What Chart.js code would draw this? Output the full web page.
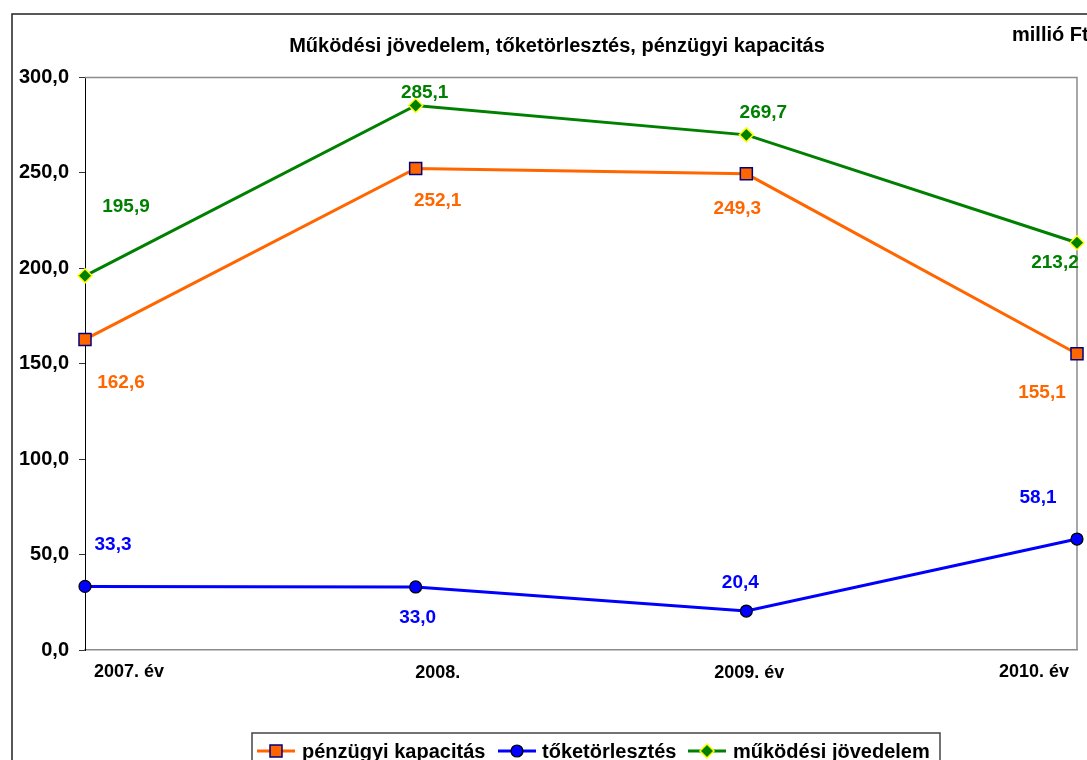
<!DOCTYPE html>
<html>
<head>
<meta charset="utf-8">
<script src="https://cdn.jsdelivr.net/npm/chart.js@4/dist/chart.umd.min.js"></script>
<style>
html,body{margin:0;padding:0;background:#fff;}
#wrap{width:1087px;height:760px;position:relative;}
</style>
</head>
<body>
<div id="wrap"><canvas id="c" width="1087" height="760"></canvas></div>
<script>
// ---- data ----
const categories = ["2007. év", "2008.", "2009. év", "2010. év"];
const penzugyiKapacitas = [162.6, 252.1, 249.3, 155.1];
const toketorlesztes = [33.3, 33.0, 20.4, 58.1];
const mukodesiJovedelem = [195.9, 285.1, 269.7, 213.2];
const seriesNames = ["pénzügyi kapacitás", "tőketörlesztés", "működési jövedelem"];
const chartTitle = "Működési jövedelem, tőketörlesztés, pénzügyi kapacitás";
const unitLabel = "millió Ft";
const yMin = 0, yMax = 300, yStep = 50;

// ---- styles ----
const FONT = '"Liberation Sans", Arial, sans-serif';
const labelOffsets = [
  [[36, 43], [22, 32], [-9, 35], [-35, 39]],
  [[28, -42], [2, 31], [-6, -28], [-39, -41]],
  [[41, -69], [9, -13], [17, -22], [-22, 20]]
];
const xLabelOffsets = [[44, 22], [22, 23], [3, 23], [-43, 22]];

function fmt(v) { return v.toFixed(1).replace('.', ','); }

const decor = {
  id: 'decor',
  beforeDatasetsDraw(chart) {
    const ctx = chart.ctx, a = chart.chartArea;
    ctx.save();
    ctx.strokeStyle = '#8c8c8c';
    ctx.lineWidth = 1.5;
    ctx.beginPath();
    ctx.moveTo(a.left, a.top + 0.5);
    ctx.lineTo(a.right, a.top + 0.5);
    ctx.lineTo(a.right, a.bottom);
    ctx.stroke();
    ctx.restore();
  },
  afterDatasetsDraw(chart) {
    const ctx = chart.ctx;
    ctx.save();
    ctx.font = 'bold 19px ' + FONT;
    ctx.textAlign = 'center';
    ctx.textBaseline = 'middle';
    chart.data.datasets.forEach((ds, di) => {
      const meta = chart.getDatasetMeta(di);
      meta.data.forEach((pt, i) => {
        const off = labelOffsets[di][i];
        ctx.fillStyle = ds.labelColor;
        ctx.fillText(fmt(ds.data[i]), pt.x + off[0], pt.y + off[1]);
      });
    });
    ctx.restore();
  },
  afterDraw(chart) {
    const ctx = chart.ctx, a = chart.chartArea;
    const xs = chart.scales.x;
    ctx.save();
    // outer frame
    ctx.strokeStyle = '#222';
    ctx.lineWidth = 1.5;
    ctx.beginPath();
    ctx.moveTo(12, 770);
    ctx.lineTo(12, 14);
    ctx.lineTo(1100, 14);
    ctx.stroke();
    // title
    ctx.fillStyle = '#000';
    ctx.font = 'bold 20px ' + FONT;
    ctx.textAlign = 'center';
    ctx.textBaseline = 'middle';
    ctx.fillText(chartTitle, 557, 46);
    ctx.textAlign = 'left';
    ctx.fillText(unitLabel, 1012, 35);
    // x labels
    ctx.font = 'bold 18px ' + FONT;
    ctx.textAlign = 'center';
    categories.forEach((c, i) => {
      const x = xs.getPixelForValue(i);
      ctx.fillText(c, x + xLabelOffsets[i][0], a.bottom + xLabelOffsets[i][1]);
    });
    // legend
    ctx.strokeStyle = '#444';
    ctx.lineWidth = 1.5;
    ctx.strokeRect(252, 733, 688, 60);
    const ly = 751;
    const items = [[257, 302], [498, 542], [688, 733]];
    ctx.font = 'bold 20px ' + FONT;
    ctx.textAlign = 'left';
    chart.data.datasets.forEach((ds, di) => {
      const [lx, tx] = items[di];
      ctx.strokeStyle = ds.borderColor;
      ctx.lineWidth = 3;
      ctx.beginPath();
      ctx.moveTo(lx, ly);
      ctx.lineTo(lx + 38, ly);
      ctx.stroke();
      const cx = lx + 19;
      ctx.fillStyle = ds.pointBackgroundColor;
      ctx.strokeStyle = ds.pointBorderColor;
      ctx.lineWidth = ds.pointBorderWidth;
      ctx.beginPath();
      if (ds.pointStyle === 'rect') {
        ctx.rect(cx - 6, ly - 6, 12, 12);
      } else if (ds.pointStyle === 'circle') {
        ctx.arc(cx, ly, 6, 0, Math.PI * 2);
      } else {
        ctx.moveTo(cx - 7, ly); ctx.lineTo(cx, ly - 7); ctx.lineTo(cx + 7, ly); ctx.lineTo(cx, ly + 7); ctx.closePath();
      }
      ctx.fill();
      ctx.stroke();
      ctx.fillStyle = '#000';
      ctx.textBaseline = 'middle';
      ctx.fillText(ds.label, tx, ly + 1);
    });
    ctx.restore();
  }
};

new Chart(document.getElementById('c'), {
  type: 'line',
  data: {
    labels: categories,
    datasets: [
      {
        label: seriesNames[0], data: penzugyiKapacitas,
        borderColor: '#FF6600', borderWidth: 3, labelColor: '#FF6600',
        pointStyle: 'rect', pointRadius: 8.5, pointHoverRadius: 8.5,
        pointBackgroundColor: '#FF6600', pointBorderColor: '#000080', pointBorderWidth: 1.5,
        tension: 0, clip: false
      },
      {
        label: seriesNames[1], data: toketorlesztes,
        borderColor: '#0000FF', borderWidth: 3, labelColor: '#0000FF',
        pointStyle: 'circle', pointRadius: 6, pointHoverRadius: 6,
        pointBackgroundColor: '#0000FF', pointBorderColor: '#000000', pointBorderWidth: 1.2,
        tension: 0, clip: false
      },
      {
        label: seriesNames[2], data: mukodesiJovedelem,
        borderColor: '#008000', borderWidth: 3, labelColor: '#008000',
        pointStyle: 'rectRot', pointRadius: 7, pointHoverRadius: 7,
        pointBackgroundColor: '#008000', pointBorderColor: '#FFFF00', pointBorderWidth: 1.5,
        tension: 0, clip: false
      }
    ]
  },
  options: {
    responsive: false,
    animation: false,
    events: [],
    layout: { padding: { left: 0, right: 10, top: 77, bottom: 0 } },
    plugins: { legend: { display: false }, title: { display: false }, tooltip: { enabled: false } },
    scales: {
      x: {
        offset: false,
        ticks: { display: false },
        grid: { display: false },
        border: { display: true, color: '#8c8c8c', width: 1.5 },
        afterFit(s) { s.height = 110; }
      },
      y: {
        min: yMin, max: yMax,
        ticks: {
          stepSize: yStep, color: '#000', padding: 10,
          font: { family: FONT, size: 20, weight: 'bold' },
          callback: v => fmt(v)
        },
        grid: { display: true, drawOnChartArea: false, drawTicks: true, tickLength: 6, color: '#333' },
        border: { display: true, color: '#000', width: 1 },
        afterFit(s) { s.width = 85; }
      }
    }
  },
  plugins: [decor]
});
</script>
</body>
</html>
